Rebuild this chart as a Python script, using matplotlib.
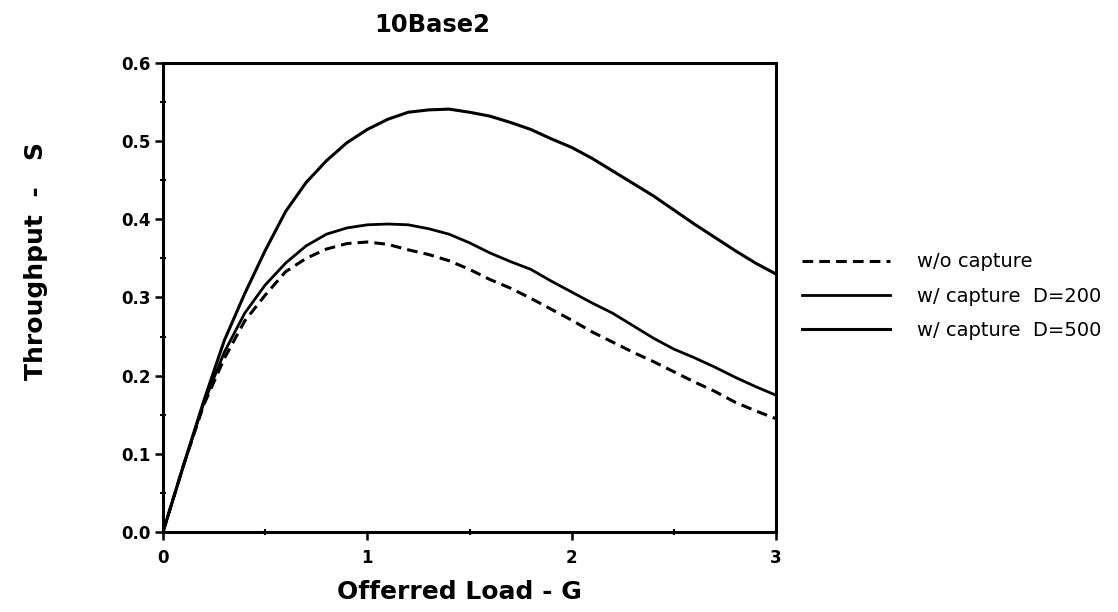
import matplotlib
matplotlib.use("Agg")
import matplotlib.pyplot as plt
from matplotlib.ticker import MultipleLocator, FormatStrFormatter

plt.rcParams['font.family'] = ['DejaVu Sans']

G = [0.0, 0.1, 0.2, 0.3, 0.4, 0.5, 0.6, 0.7, 0.8, 0.9, 1.0, 1.1, 1.2, 1.3, 1.4, 1.5,
     1.6, 1.7, 1.8, 1.9, 2.0, 2.1, 2.2, 2.3, 2.4, 2.5, 2.6, 2.7, 2.8, 2.9, 3.0]
S_no_capture = [0.0, 0.085, 0.163, 0.222, 0.27, 0.303, 0.333, 0.35, 0.362, 0.369, 0.371,
                0.368, 0.361, 0.355, 0.347, 0.336, 0.323, 0.312, 0.299, 0.285, 0.271,
                0.256, 0.243, 0.230, 0.218, 0.205, 0.192, 0.180, 0.166, 0.155, 0.145]
S_D200 = [0.0, 0.085, 0.165, 0.23, 0.28, 0.316, 0.344, 0.366, 0.381, 0.389, 0.393,
          0.394, 0.393, 0.388, 0.381, 0.370, 0.357, 0.346, 0.336, 0.321, 0.307,
          0.293, 0.280, 0.264, 0.248, 0.234, 0.223, 0.211, 0.198, 0.186, 0.175]
S_D500 = [0.0, 0.085, 0.168, 0.245, 0.305, 0.36, 0.41, 0.447, 0.475, 0.498, 0.515,
          0.528, 0.537, 0.540, 0.541, 0.537, 0.532, 0.524, 0.515, 0.503, 0.492,
          0.478, 0.462, 0.446, 0.430, 0.412, 0.394, 0.377, 0.360, 0.344, 0.330]
labels = ['w/o capture', 'w/ capture  D=200', 'w/ capture  D=500']

W, H = 1118, 612
fig = plt.figure(figsize=(W / 100, H / 100), dpi=100)
x0, x1, y0, y1 = 163, 776, 532, 63
ax = fig.add_axes([x0 / W, 1 - y0 / H, (x1 - x0) / W, (y0 - y1) / H])

ax.plot(G, S_no_capture, color='black', lw=2.2, dashes=(3.5, 2.0), label=labels[0])
ax.plot(G, S_D200, color='black', lw=2.0, label=labels[1])
ax.plot(G, S_D500, color='black', lw=2.2, label=labels[2])

ax.set_xlim(0, 3)
ax.set_ylim(0, 0.6)
ax.xaxis.set_major_locator(MultipleLocator(1))
ax.xaxis.set_minor_locator(MultipleLocator(0.5))
ax.yaxis.set_major_locator(MultipleLocator(0.1))
ax.yaxis.set_minor_locator(MultipleLocator(0.05))
ax.yaxis.set_major_formatter(FormatStrFormatter('%.1f'))
ax.tick_params(axis='both', which='major', direction='out', length=6, width=1.8,
               labelsize=12, pad=3)
ax.tick_params(axis='x', which='major', pad=6)
ax.tick_params(axis='both', which='minor', direction='inout', length=5, width=1.5)
for lab in ax.get_xticklabels() + ax.get_yticklabels():
    lab.set_fontweight('bold')
for sp in ax.spines.values():
    sp.set_linewidth(2.2)

ax.set_xlabel('Offerred Load - G', fontsize=18, fontweight='bold', va='top')
ax.xaxis.set_label_coords((459 - x0) / (x1 - x0), (y0 - 580) / (y0 - y1))
ax.set_ylabel('Throughput  -   S', fontsize=18, fontweight='bold', va='center', ha='center')
ax.yaxis.set_label_coords((36 - x0) / (x1 - x0), (y0 - 261) / (y0 - y1))
fig.text(432 / W, 1 - 25 / H, '10Base2', fontsize=17.5, fontweight='bold',
         ha='center', va='center')

fig.legend(loc='center left', bbox_to_anchor=(802 / W, 1 - 296 / H), frameon=False,
           fontsize=14, handlelength=4.5, handletextpad=1.4, labelspacing=0.78,
           borderpad=0, borderaxespad=0)

fig.savefig('out.png', dpi=100)
